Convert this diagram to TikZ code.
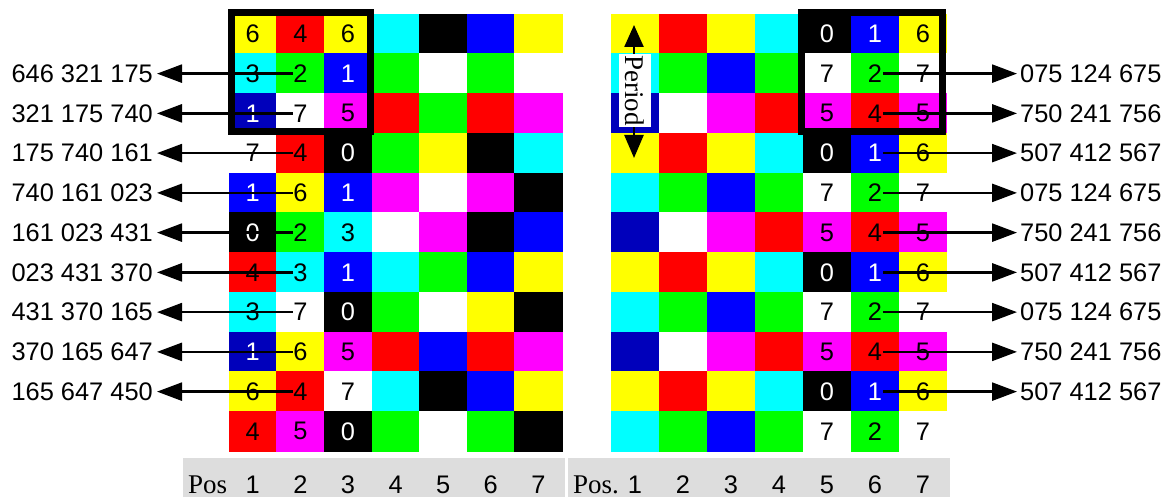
\documentclass[tikz,border=0pt]{standalone}
\usepackage{fontspec}
\setmainfont{Liberation Serif}
\setsansfont{Liberation Sans}
\usetikzlibrary{arrows.meta}
\definecolor{cY}{HTML}{FFFF00}\colorlet{tY}{black}
\definecolor{cR}{HTML}{FF0000}\colorlet{tR}{black}
\definecolor{cC}{HTML}{00FFFF}\colorlet{tC}{black}
\definecolor{cK}{HTML}{000000}\colorlet{tK}{white}
\definecolor{cB}{HTML}{0000FF}\colorlet{tB}{white}
\definecolor{cD}{HTML}{0000BB}\colorlet{tD}{white}
\definecolor{cG}{HTML}{00FF00}\colorlet{tG}{black}
\definecolor{cM}{HTML}{FF00FF}\colorlet{tM}{black}
\definecolor{cW}{HTML}{FFFFFF}\colorlet{tW}{black}
\definecolor{barGray}{HTML}{DDDDDD}
\tikzset{
  cellL/.style={draw=none, minimum width=48.2pt, minimum height=40.3pt, inner sep=0pt},
  cellR/.style={draw=none, minimum width=48.6pt, minimum height=40.3pt, inner sep=0pt},
  digit/.style={font=\sffamily\fontsize{25.4}{30}\selectfont, inner sep=0.5pt},
  lab/.style={font=\sffamily\fontsize{25.4}{30}\selectfont, inner ysep=0pt},
  axnum/.style={font=\sffamily\fontsize{25.4}{30}\selectfont, inner sep=0pt},
  axtext/.style={font=\rmfamily\fontsize{27}{30}\selectfont, inner sep=0pt},
  arr/.style={line width=2.5pt, -{Triangle[length=25pt,width=18pt]}},
  parr/.style={line width=2.5pt, {Triangle[length=22pt,width=19pt]}-{Triangle[length=23pt,width=19pt]}},
  frame/.style={draw=black, line width=7pt},
  bar/.style={fill=barGray},
  periodbox/.style={fill=white, rotate=-90, minimum width=73pt, minimum height=32pt, inner sep=0pt,
    font=\rmfamily\fontsize{27}{30}\selectfont},
}
\begin{document}
\begin{tikzpicture}[x=1pt,y=-1pt]
\useasboundingbox (0,0) rectangle (1166,497);
% left grid
\foreach \r/\cells in {
 1/{Y/6,R/4,Y/6,C/x,K/x,B/x,Y/x},
 2/{C/3,G/2,B/1,G/x,W/x,G/x,W/x},
 3/{D/1,W/7,M/5,R/x,G/x,R/x,M/x},
 4/{W/7,R/4,K/0,G/x,Y/x,K/x,C/x},
 5/{B/1,Y/6,B/1,M/x,W/x,M/x,K/x},
 6/{K/0,G/2,C/3,W/x,M/x,K/x,B/x},
 7/{R/4,C/3,B/1,C/x,G/x,B/x,Y/x},
 8/{C/3,W/7,K/0,G/x,W/x,Y/x,K/x},
 9/{D/1,Y/6,M/5,R/x,B/x,R/x,M/x},
 10/{Y/6,R/4,W/7,C/x,K/x,B/x,Y/x},
 11/{R/4,M/5,K/0,G/x,W/x,G/x,K/x}}{
  \foreach [count=\c] \col/\d in \cells {
    \node[cellL, fill=c\col] (L-\r-\c) at ({229+47.6*(\c-0.5)},{14+39.75*(\r-0.5)}) {};
    \ifnum\c<4
      \node[digit, text=t\col] (Ld-\r-\c) at (L-\r-\c.center) {\d};
    \fi
  }
}
% right grid
\foreach \r/\cells in {
 1/{Y/x,R/x,Y/x,C/x,K/0,B/1,Y/6},
 2/{C/x,G/x,B/x,G/x,W/7,G/2,W/7},
 3/{D/x,W/x,M/x,R/x,M/5,R/4,M/5},
 4/{Y/x,R/x,Y/x,C/x,K/0,B/1,Y/6},
 5/{C/x,G/x,B/x,G/x,W/7,G/2,W/7},
 6/{D/x,W/x,M/x,R/x,M/5,R/4,M/5},
 7/{Y/x,R/x,Y/x,C/x,K/0,B/1,Y/6},
 8/{C/x,G/x,B/x,G/x,W/7,G/2,W/7},
 9/{D/x,W/x,M/x,R/x,M/5,R/4,M/5},
 10/{Y/x,R/x,Y/x,C/x,K/0,B/1,Y/6},
 11/{C/x,G/x,B/x,G/x,W/7,G/2,W/7}}{
  \foreach [count=\c] \col/\d in \cells {
    \node[cellR, fill=c\col] (R-\r-\c) at ({611+48*(\c-0.5)},{14+39.75*(\r-0.5)}) {};
    \ifnum\c>4
      \node[digit, text=t\col] (Rd-\r-\c) at (R-\r-\c.center) {\d};
    \fi
  }
}
% frames
\draw[frame] (231,13) rectangle (370,132);
\draw[frame] (801,12.5) rectangle (942.5,132);
% left labels and arrows
\foreach \r/\t in {2/646 321 175, 3/321 175 740, 4/175 740 161, 5/740 161 023,
  6/161 023 431, 7/023 431 370, 8/431 370 165, 9/370 165 647, 10/165 647 450}{
  \node[lab, anchor=east, inner xsep=4pt] (Ll-\r) at (157,{14+39.75*(\r-0.5)}) {\t};
  \draw[arr] (Ld-\r-2.west) -- (Ll-\r.east);
}
% right labels and arrows
\foreach \r/\t in {2/075 124 675, 3/750 241 756, 4/507 412 567, 5/075 124 675,
  6/750 241 756, 7/507 412 567, 8/075 124 675, 9/750 241 756, 10/507 412 567}{
  \node[lab, anchor=west, inner xsep=3pt] (Rl-\r) at (1017,{14+39.75*(\r-0.5)}) {\t};
  \draw[arr] (Rd-\r-6.east) -- (Rl-\r.west);
}
% period marker
\coordinate (ptop) at (634,25);
\coordinate (pbot) at (634,158);
\draw[parr] (ptop) -- (pbot);
\node[periodbox] (period) at (635,90.5) {Period};
% axis bars
\fill[bar] (183,458) rectangle (565,497);
\fill[bar] (568,458) rectangle (950,497);
\node[axtext, anchor=base west] (Lpos) at (188,493) {Pos};
\node[axtext, anchor=base west] (Rpos) at (573,493) {Pos.};
\foreach \c in {1,...,7}{
  \node[axnum, anchor=base] (Lp-\c) at ({229+47.6*(\c-0.5)},493) {\c};
  \node[axnum, anchor=base] (Rp-\c) at ({611+48*(\c-0.5)},493) {\c};
}
\end{tikzpicture}
\end{document}
